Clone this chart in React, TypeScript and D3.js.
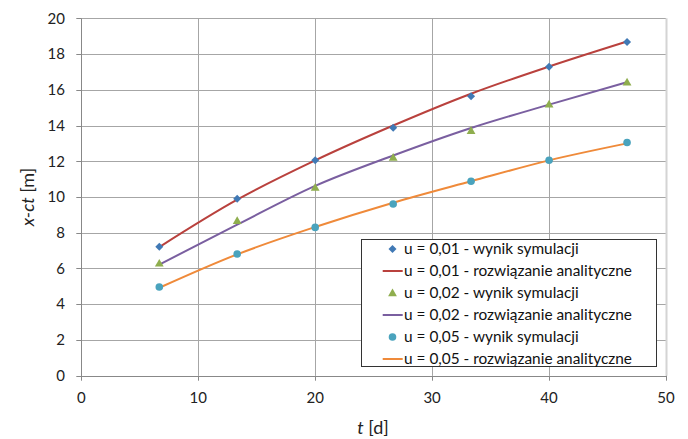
import React from "react";
import * as d3 from "d3";

const tValues = [6.67, 13.33, 20, 26.67, 33.33, 40, 46.67];
const sim001 = [7.22, 9.9, 12.05, 13.87, 15.64, 17.29, 18.68];
const ana001 = [7.2, 9.85, 12.05, 14.0, 15.78, 17.3, 18.7];
const sim002 = [6.29, 8.68, 10.54, 12.22, 13.71, 15.2, 16.43];
const ana002 = [6.22, 8.45, 10.62, 12.32, 13.86, 15.17, 16.43];
const sim005 = [4.96, 6.81, 8.3, 9.61, 10.88, 12.06, 13.05];
const ana005 = [4.92, 6.79, 8.32, 9.68, 10.88, 12.05, 13.0];
const xTicks = [0, 10, 20, 30, 40, 50];
const yTicks = [0, 2, 4, 6, 8, 10, 12, 14, 16, 18, 20];
const legendLabels = [
  "u = 0,01 - wynik symulacji",
  "u = 0,01 - rozwiązanie analityczne",
  "u = 0,02 - wynik symulacji",
  "u = 0,02 - rozwiązanie analityczne",
  "u = 0,05 - wynik symulacji",
  "u = 0,05 - rozwiązanie analityczne",
];

const C = {
  blue: "#4079B5",
  red: "#B9413D",
  green: "#8FAE4E",
  purple: "#7A5FA0",
  cyan: "#4AA3BD",
  orange: "#EF8A3A",
  grid: "#A6A6A6",
};

const FONT = "Lato, 'Open Sans', sans-serif";

function Marker({ kind, x, y, color }: { kind: string; x: number; y: number; color: string }) {
  if (kind === "diamond") {
    const r = 4;
    return <path d={`M${x},${y - r}L${x + r},${y}L${x},${y + r}L${x - r},${y}Z`} fill={color} />;
  }
  if (kind === "triangle") {
    const r = 4.4;
    return (
      <path
        d={`M${x},${y - r}L${x + r},${y + r * 0.75}L${x - r},${y + r * 0.75}Z`}
        fill={color}
      />
    );
  }
  return <circle cx={x} cy={y} r={3.8} fill={color} />;
}

export default function App() {
  const W = 688,
    H = 439;
  const x = d3.scaleLinear().domain([0, 50]).range([81.3, 666]);
  const y = d3.scaleLinear().domain([0, 20]).range([375.7, 18.3]);

  const line = (vals: number[]) =>
    d3
      .line<number>()
      .x((_, i) => x(tValues[i]))
      .y((v) => y(v))
      .curve(d3.curveMonotoneX)(vals) || "";

  const simSeries = [
    { vals: sim001, kind: "diamond", color: C.blue },
    { vals: sim002, kind: "triangle", color: C.green },
    { vals: sim005, kind: "circle", color: C.cyan },
  ];
  const anaSeries = [
    { vals: ana001, color: C.red },
    { vals: ana002, color: C.purple },
    { vals: ana005, color: C.orange },
  ];

  const legX = 361.5,
    legY = 239.5,
    legW = 295,
    legH = 127;

  return (
    <svg
      width={W}
      height={H}
      style={{ position: "absolute", left: 0, top: 0, background: "#fff" }}
      fontFamily={FONT}
    >
      {/* grid */}
      {yTicks.slice(1).map((t) => (
        <line key={"gy" + t} x1={x(0)} x2={x(50)} y1={Math.round(y(t)) + 0.5} y2={Math.round(y(t)) + 0.5} stroke={C.grid} />
      ))}
      {xTicks.slice(1, -1).map((t) => (
        <line key={"gx" + t} x1={Math.round(x(t)) + 0.5} x2={Math.round(x(t)) + 0.5} y1={y(20)} y2={y(0)} stroke={C.grid} />
      ))}
      <line x1={Math.round(x(50)) + 0.5} x2={Math.round(x(50)) + 0.5} y1={y(20)} y2={y(0)} stroke="#D4D4D4" strokeWidth={2} />
      {/* axes */}
      <line x1={Math.round(x(0)) + 0.5} x2={Math.round(x(0)) + 0.5} y1={y(20)} y2={y(0) + 0.5} stroke="#888" />
      <line x1={x(0)} x2={x(50)} y1={Math.round(y(0)) + 0.5} y2={Math.round(y(0)) + 0.5} stroke="#888" />
      {yTicks.map((t) => (
        <g key={"ty" + t}>
          <line x1={x(0) - 5} x2={x(0)} y1={Math.round(y(t)) + 0.5} y2={Math.round(y(t)) + 0.5} stroke="#888" />
          <text x={65} y={y(t)} dy="0.35em" textAnchor="end" fontSize={15} fill="#222">
            {t}
          </text>
        </g>
      ))}
      {xTicks.map((t) => (
        <g key={"tx" + t}>
          <line x1={Math.round(x(t)) + 0.5} x2={Math.round(x(t)) + 0.5} y1={y(0)} y2={y(0) + 5} stroke="#888" />
          <text x={x(t)} y={398} dy="0.35em" textAnchor="middle" fontSize={15} fill="#222">
            {t}
          </text>
        </g>
      ))}
      {/* axis titles */}
      <text x={373} y={428} dy="0.35em" textAnchor="middle" fontSize={18} fill="#222">
        <tspan fontStyle="italic">t</tspan> [d]
      </text>
      <text
        transform={`translate(28,${y(10)}) rotate(-90)`}
        textAnchor="middle"
        dy="0.35em"
        fontSize={18}
        fill="#222"
      >
        <tspan fontStyle="italic">x-ct</tspan> [m]
      </text>
      {/* analytical lines */}
      {anaSeries.map((s, i) => (
        <path key={"a" + i} d={line(s.vals)} fill="none" stroke={s.color} strokeWidth={2} />
      ))}
      {/* simulation markers */}
      {simSeries.map((s, i) =>
        s.vals.map((v, j) => <Marker key={`m${i}-${j}`} kind={s.kind} x={x(tValues[j])} y={y(v)} color={s.color} />)
      )}
      {/* legend */}
      <rect x={legX} y={legY} width={legW} height={legH} fill="#fff" stroke="#333" strokeWidth={1} />
      {legendLabels.map((lab, i) => {
        const cy = 249 + i * 22;
        const isLine = i % 2 === 1;
        const sIdx = Math.floor(i / 2);
        return (
          <g key={"l" + i}>
            {isLine ? (
              <line x1={382.7} x2={402.7} y1={cy} y2={cy} stroke={anaSeries[sIdx].color} strokeWidth={2} />
            ) : (
              <Marker kind={simSeries[sIdx].kind} x={392.5} y={cy} color={simSeries[sIdx].color} />
            )}
            <text x={404} y={cy} dy="0.35em" fontSize={15.4} fill="#111">
              {lab}
            </text>
          </g>
        );
      })}
    </svg>
  );
}
